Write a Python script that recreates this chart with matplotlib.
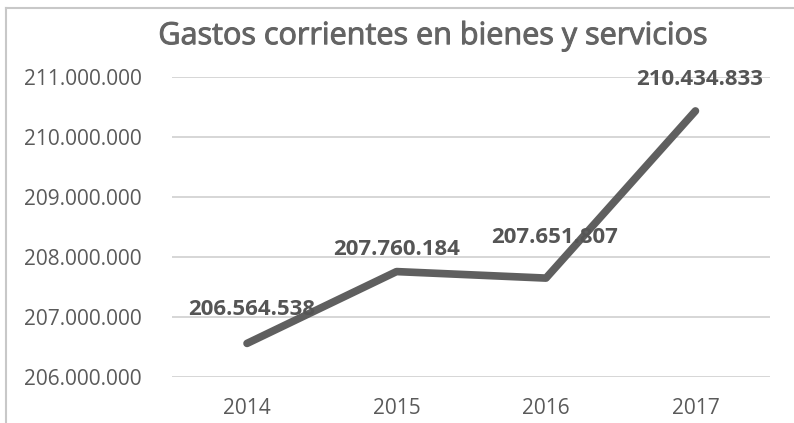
import matplotlib.pyplot as plt
import matplotlib.patheffects as pe
from matplotlib.ticker import FuncFormatter
from matplotlib.lines import Line2D

plt.rcParams['font.family'] = ['Open Sans', 'DejaVu Sans']

years = ['2014', '2015', '2016', '2017']
gastos = [206564538, 207760184, 207651807, 210434833]

# label offsets in points (dx, dy) - the labels in the source sit a bit irregularly
label_offsets = [(3, 17), (0, 8), (6, 22), (3, 15)]


def miles(v, pos=None):
    return f'{int(round(v)):,}'.replace(',', '.')


fig = plt.figure(figsize=(7.94, 4.23), dpi=100)
ax = fig.add_axes([0.217, 0.108, 0.753, 0.71])

x = range(len(years))
ax.plot(x, gastos, color='#5f5f5f', linewidth=5.5, solid_capstyle='round', zorder=3)

for xi, v, off in zip(x, gastos, label_offsets):
    ax.annotate(miles(v), (xi, v), xytext=off, textcoords='offset points',
                ha='center', va='bottom', fontsize=16, fontweight='bold',
                color='#555555', zorder=4)

ax.set_xlim(-0.5, 3.5)
ax.set_ylim(206000000, 211000000)
ax.set_yticks(range(206000000, 211000001, 1000000))
ax.yaxis.set_major_formatter(FuncFormatter(miles))
ax.set_xticks(list(x))
ax.set_xticklabels(years)
ax.grid(axis='y', color='#d0d0d0', linewidth=1.2)
ax.set_axisbelow(True)
for s in ax.spines.values():
    s.set_visible(False)
ax.tick_params(length=0, labelsize=15, colors='#5a5a5a')
ax.tick_params(axis='x', pad=15)
ax.tick_params(axis='y', pad=22)

# the scanned title looks semibold: thicken the regular face a little
t = fig.suptitle('Gastos corrientes en bienes y servicios', x=0.545, y=0.95,
                 fontsize=22, color='#646464')
t.set_path_effects([pe.withStroke(linewidth=0.7, foreground='#646464')])

# chart border (left and top edges visible in the scan)
fig.add_artist(Line2D([0.007, 0.007], [0, 0.98], transform=fig.transFigure,
                      color='#c8c8c8', linewidth=1.5))
fig.add_artist(Line2D([0.007, 1], [0.98, 0.98], transform=fig.transFigure,
                      color='#c8c8c8', linewidth=1.5))

fig.savefig('out.png', dpi=100)
